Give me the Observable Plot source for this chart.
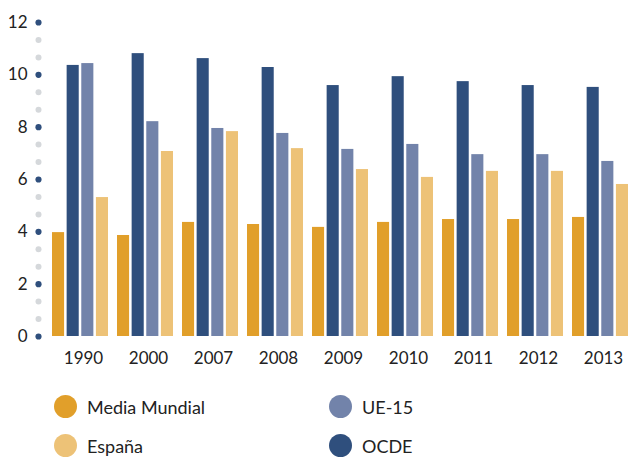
<!DOCTYPE html>
<html>
<head>
<meta charset="utf-8">
<script src="https://cdn.jsdelivr.net/npm/d3@7"></script>
<script src="https://cdn.jsdelivr.net/npm/@observablehq/plot@0.6"></script>
<style>
  body { margin: 0; background: #fff; font-family: Lato, sans-serif; }
  #legend { position: relative; width: 628px; height: 82px; font-size: 18px; color: #222; }
  .item { position: absolute; display: flex; align-items: center; }
  .sw { width: 23px; height: 23px; border-radius: 50%; margin-right: 10px; }
</style>
</head>
<body>
<div id="chart"></div>
<div id="legend"></div>
<script>
const years = ["1990","2000","2007","2008","2009","2010","2011","2012","2013"];
const mediaMundial = [3.97,3.86,4.36,4.28,4.17,4.36,4.47,4.47,4.55];
const ocde = [10.36,10.81,10.62,10.28,9.59,9.93,9.74,9.59,9.52];
const ue15 = [10.43,8.21,7.95,7.76,7.15,7.34,6.95,6.95,6.69];
const espana = [5.31,7.07,7.83,7.18,6.38,6.08,6.31,6.31,5.81];
const seriesNames = ["Media Mundial","OCDE","UE-15","España"];
const seriesColors = ["#E19F2A","#2F4F7D","#7283AA","#EDC277"];
const yTicks = [0,2,4,6,8,10,12];

const seriesValues = [mediaMundial, ocde, ue15, espana];
const W = 628, H = 375, mL = 52, mR = 0, mT = 22, mB = 39;
const padInner = 0.14;
const step = (W - mL - mR) / (years.length - padInner);
const bw = step * (1 - padInner);
const barW = 12, barStep = (bw - barW) / 3;

const marks = [];
// minor/major dots along y axis
const dotTicks = d3.range(0, 18.5).map(i => i * 2 / 3);
marks.push(Plot.dot(dotTicks, {
  y: d => d, frameAnchor: "left", dx: -14,
  r: d => (Math.abs(d - Math.round(d)) < 1e-6 && Math.round(d) % 2 === 0) ? 3.5 : 3.3,
  fill: d => (Math.abs(d - Math.round(d)) < 1e-6 && Math.round(d) % 2 === 0) ? "#2F4F7D" : "#D5D8DB",
  stroke: null
}));
seriesValues.forEach((vals, i) => {
  const data = years.map((y, j) => ({year: y, value: vals[j]}));
  marks.push(Plot.barY(data, {
    x: "year", y: "value", fill: seriesColors[i],
    insetLeft: i * barStep, insetRight: bw - i * barStep - barW
  }));
});
marks.push(Plot.axisY({ticks: yTicks, tickSize: 0, tickPadding: 25, fontSize: 17, tickFormat: d => d, color: "#222"}));
marks.push(Plot.axisX({tickSize: 0, tickPadding: 15, fontSize: 17, dx: 3, color: "#222"}));

const chart = Plot.plot({
  width: W, height: H,
  marginLeft: mL, marginRight: mR, marginTop: mT, marginBottom: mB,
  style: {fontFamily: "Lato, sans-serif", background: "#fff", color: "#222"},
  x: {type: "band", domain: years, paddingInner: padInner, paddingOuter: 0, label: null},
  y: {domain: [0, 12], label: null},
  marks
});
document.getElementById("chart").appendChild(chart);

// legend
const legendPos = [
  {name: "Media Mundial", x: 54, y: 32},
  {name: "UE-15", x: 329, y: 32},
  {name: "España", x: 54, y: 71},
  {name: "OCDE", x: 329, y: 71}
];
const lg = document.getElementById("legend");
legendPos.forEach(p => {
  const it = document.createElement("div");
  it.className = "item";
  it.style.left = p.x + "px";
  it.style.top = (p.y - 12) + "px";
  const sw = document.createElement("span");
  sw.className = "sw";
  sw.style.background = seriesColors[seriesNames.indexOf(p.name)];
  const tx = document.createElement("span");
  tx.textContent = p.name;
  it.appendChild(sw); it.appendChild(tx);
  lg.appendChild(it);
});
</script>
</body>
</html>
